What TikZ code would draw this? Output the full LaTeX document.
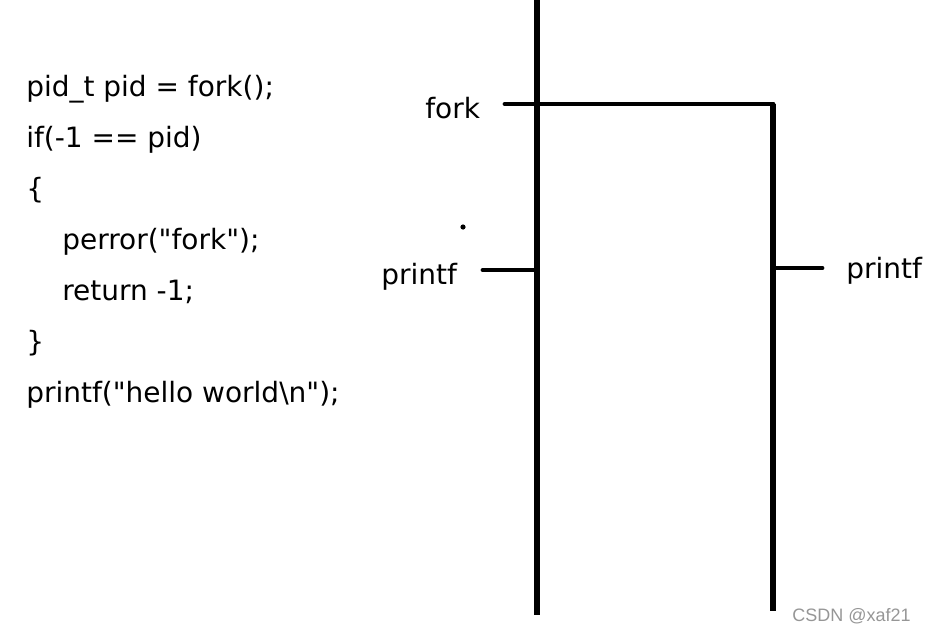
\documentclass[tikz,border=0pt]{standalone}
\usepackage{fontspec}
\setmainfont{DejaVu Sans}
\usetikzlibrary{positioning}
\definecolor{wmgray}{RGB}{150,150,150}

\tikzset{
  codeline/.style={anchor=base west, inner sep=0pt, font=\fontsize{19.9}{24}\selectfont},
  lbl/.style={anchor=base west, inner sep=0pt, font=\fontsize{19.9}{24}\selectfont},
  proc/.style={line width=3.8pt},
  tickline/.style={line width=3.5pt, line cap=round},
}

\begin{document}
\begin{tikzpicture}[x=0.025cm, y=-0.025cm]
\useasboundingbox (0,0) rectangle (928,632);

  % source code
  \node[codeline] (l1) at (26,96)  {pid\_t pid = fork();};
  \node[codeline] (l2) at (26,147) {if(-1 == pid)};
  \node[codeline] (l3) at (26,198) {\{};
  \node[codeline] (l4) at (62,249) {perror(\textquotedbl fork\textquotedbl);};
  \node[codeline] (l5) at (62,300) {return -1;};
  \node[codeline] (l6) at (26,351) {\}};
  \node[codeline] (l7) at (26,402) {printf(\textquotedbl hello world\textbackslash n\textquotedbl);};

  % parent process
  \coordinate (ptop) at (537,0);
  \coordinate (pbot) at (537,615);
  \draw[proc] (ptop) -- (pbot);

  % fork: child process
  \coordinate (fstart) at (505,104);
  \coordinate (fcorner) at (773,104);
  \coordinate (cbot) at (773,611);
  \draw[tickline] (fstart) -- (fcorner);
  \draw[proc] (fcorner) -- (cbot);
  \node[lbl] (forklbl) at (425,118) {fork};

  % printf in both
  \coordinate (pl) at (483,270);
  \coordinate (pr) at (537,270);
  \draw[tickline] (pl) -- (pr);
  \node[lbl] (printfl) at (381,284) {printf};

  \coordinate (cl) at (773,268);
  \coordinate (cr) at (822,268);
  \draw[tickline] (cl) -- (cr);
  \node[lbl] (printfr) at (846,278) {printf};

  % stray dot
  \fill (463,227) circle (2.6);

  \node[anchor=base west, inner sep=0pt, wmgray, font=\fontsize{12.8}{14}\selectfont\fontspec{Liberation Sans}] (wm) at (792,621) {CSDN @xaf21};
\end{tikzpicture}
\end{document}
